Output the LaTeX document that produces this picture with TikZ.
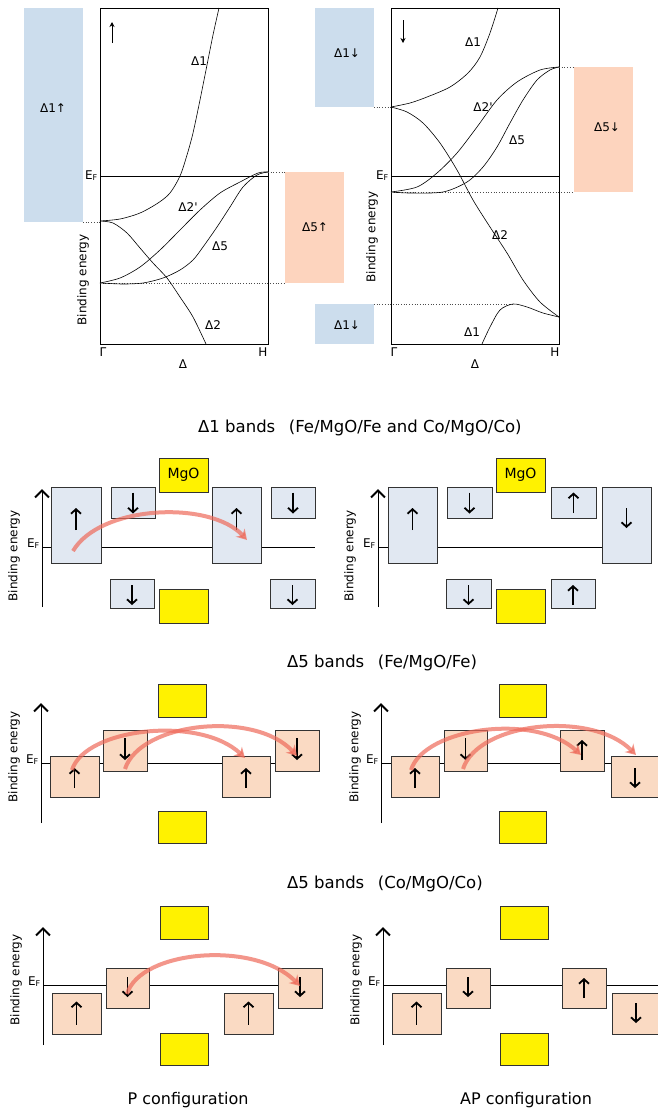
\documentclass[tikz,border=0pt]{standalone}
\usepackage{fontspec}
\setmainfont{DejaVu Sans}
\usetikzlibrary{arrows,arrows.meta}
\definecolor{bandblue}{HTML}{CCDDED}
\definecolor{bandorange}{HTML}{FDD4BE}
\definecolor{boxblue}{HTML}{E1E8F2}
\definecolor{boxorange}{HTML}{FADAC3}
\definecolor{arcred}{HTML}{EE6A5A}

\begin{document}
\begin{tikzpicture}[x=1pt,y=-1pt,font=\fontsize{12}{14}\selectfont,
        every node/.style={inner sep=0pt},
        band/.style={line width=0.6pt},
        level/.style={dotted,line width=0.7pt,black!70},
        ubox/.style={draw=black!80,line width=0.9pt,fill=boxblue,outer sep=0pt},
        obox/.style={draw=black!80,line width=0.9pt,fill=boxorange,outer sep=0pt},
        mgo/.style={draw=black!80,line width=0.9pt,fill=yellow,minimum width=49pt,minimum height=34pt,
            font=\fontsize{14}{16}\selectfont},
        spin/.style={line width=1.8pt,-{Straight Barb[length=4.5pt,width=10pt]}},
        axis/.style={line width=1pt,-{Straight Barb[length=7pt,width=14pt,line width=2pt]}},
        tunnel/.style={line width=4pt,draw=arcred,opacity=0.7,-{Stealth[length=10pt,width=12pt]}},
        title/.style={font=\fontsize{16.5}{20}\selectfont,anchor=west},
        ef/.style={anchor=base east},
        be/.style={rotate=90}]

    \useasboundingbox (0,0) rectangle (658,1112);

    % spin up band structure
    \fill[bandblue] (24,8) rectangle (83,222);
    \fill[bandorange] (285,172) rectangle (344,283);
    \draw[line width=0.8pt] (100,8) rectangle (268,344);
    \draw[band] (100,176) -- (268,176);
    \draw[level] (83,222) -- (100,222);
    \draw[level] (268,172) -- (285,172);
    \draw[level] (100,283) -- (285,283);
    \node (d1u) at (53,108) {Δ1↑};
    \node (d5u) at (315,227) {Δ5↑};
    \node[ef] (efu) at (98,179) {E\textsubscript{F}};
    \draw[line width=1pt,-{Stealth[length=5pt,width=5pt]}] (112,43) -- (112,22);
    \draw[band] plot[smooth] coordinates {(100,221) (120,219) (140,213) (158,203) (170,193)
        (180,176) (187,155) (193,133) (200,100) (207,65) (213,35) (219,8)};
    \draw[band] plot[smooth] coordinates {(100,221) (113,223) (127,233) (140,248) (153,263)
        (167,278) (180,297) (193,317) (206,344)};
    \draw[band] plot[smooth] coordinates {(100,283) (120,278) (140,267) (160,250) (180,230)
        (200,210) (220,193) (240,182) (258,173) (268,172)};
    \draw[band] plot[smooth] coordinates {(100,283) (123,284) (143,283) (163,278) (180,270)
        (193,260) (203,247) (217,227) (230,207) (243,187) (257,175) (268,172)};
    \node (u1) at (199,61) {Δ1};
    \node (u2p) at (188,207) {Δ2\textquotesingle};
    \node (u5) at (220,246) {Δ5};
    \node (u2) at (213,325) {Δ2};
    \node[be] (beu) at (83,280) {Binding energy};
    \node (gu) at (103,352) {Γ};
    \node (hu) at (263,352) {H};
    \node (du) at (183,364) {Δ};

    % spin down band structure
    \fill[bandblue] (315,8) rectangle (374,107);
    \fill[bandblue] (315,304) rectangle (374,344);
    \fill[bandorange] (574,67) rectangle (633,192);
    \draw[line width=0.8pt] (391,8) rectangle (559,344);
    \draw[band] (391,176) -- (559,176);
    \draw[level] (374,107) -- (391,107);
    \draw[level] (559,67) -- (574,67);
    \draw[level] (391,192) -- (574,192);
    \draw[level] (374,304) -- (513,304);
    \node (d1d) at (347,53) {Δ1↓};
    \node (d1dd) at (347,325) {Δ1↓};
    \node (d5d) at (607,127) {Δ5↓};
    \node[ef] (efd) at (389,179) {E\textsubscript{F}};
    \draw[line width=1pt,-{Stealth[length=5pt,width=5pt]}] (403,20) -- (403,43);
    \draw[band] plot[smooth] coordinates {(391,107) (410,103) (427,97) (450,87) (468,73)
        (480,57) (490,33) (498,8)};
    \draw[band] plot[smooth] coordinates {(391,107) (407,112) (423,123) (440,143) (457,170)
        (473,200) (490,227) (507,253) (523,280) (540,302) (559,317)};
    \draw[band] plot[smooth] coordinates {(482,344) (490,327) (500,310) (513,304) (527,307)
        (543,313) (559,317)};
    \draw[band] plot[smooth] coordinates {(391,192) (417,187) (437,173) (457,153) (477,127)
        (497,100) (517,82) (540,70) (559,67)};
    \draw[band] plot[smooth] coordinates {(391,192) (410,193) (443,192) (467,182) (483,167)
        (497,147) (510,123) (523,100) (537,80) (550,70) (559,67)};
    \node (w1) at (473,42) {Δ1};
    \node (w2p) at (483,107) {Δ2\textquotesingle};
    \node (w5) at (517,140) {Δ5};
    \node (w2) at (500,235) {Δ2};
    \node (w1b) at (472,332) {Δ1};
    \node[be] (bed) at (372,237) {Binding energy};
    \node (gd) at (394,352) {Γ};
    \node (hd) at (555,352) {H};
    \node (dd) at (475,364) {Δ};

    % Delta1 bands
    \node[title] (t1) at (198,428) {Δ1 bands\enspace\ (Fe/MgO/Fe and Co/MgO/Co)};

    \draw[axis] (42,607) -- (42,489);
    \draw (42,547) -- (315,547);
    \node[ef] (ef1) at (40,547) {E\textsubscript{F}};
    \node[be] (be1) at (14,556) {Binding energy};
    \node[ubox,minimum width=50pt,minimum height=76pt] (L1) at (76,525) {};
    \node[ubox,minimum width=44pt,minimum height=31pt] (L2) at (133,502.5) {};
    \node[mgo] (M1) at (183.5,475) {MgO};
    \node[ubox,minimum width=49pt,minimum height=76pt] (L3) at (236.5,525) {};
    \node[ubox,minimum width=44pt,minimum height=31pt] (L4) at (293,502.5) {};
    \node[ubox,minimum width=44pt,minimum height=29pt] (L5) at (132,593.5) {};
    \node[mgo] (M2) at (183.5,606) {};
    \node[ubox,minimum width=45pt,minimum height=29pt] (L6) at (292.5,593.5) {};
    \draw[spin] ([yshift=-5pt]L1.center) -- ([yshift=17pt]L1.center);
    \draw[spin] ([yshift=10pt]L2.center) -- ([yshift=-11pt]L2.center);
    \draw[spin] ([yshift=-5pt]L3.center) -- ([yshift=17pt]L3.center);
    \draw[spin] ([yshift=10pt]L4.center) -- ([yshift=-11pt]L4.center);
    \draw[spin] ([yshift=8.5pt]L5.center) -- ([yshift=-11.5pt]L5.center);
    \draw[spin] ([yshift=8.5pt]L6.center) -- ([yshift=-11.5pt]L6.center);
    \coordinate (p1) at (73,551);
    \coordinate (q1) at (247,540);
    \draw[tunnel] (p1) .. controls (100,505) and (210,500) .. (q1);

    \draw[axis] (378,607) -- (378,489);
    \draw (378,547) -- (651,547);
    \node[ef] (ef2) at (376,547) {E\textsubscript{F}};
    \node[be] (be2) at (350,556) {Binding energy};
    \node[ubox,minimum width=49pt,minimum height=76pt] (R1) at (412.5,525) {};
    \node[ubox,minimum width=45pt,minimum height=31pt] (R2) at (469.5,502.5) {};
    \node[mgo] (M3) at (520.5,475) {MgO};
    \node[ubox,minimum width=45pt,minimum height=31pt] (R3) at (573.5,502.5) {};
    \node[ubox,minimum width=49pt,minimum height=76pt] (R4) at (626.5,525) {};
    \node[ubox,minimum width=45pt,minimum height=29pt] (R5) at (468.5,593.5) {};
    \node[mgo] (M4) at (520.5,606) {};
    \node[ubox,minimum width=44pt,minimum height=29pt] (R6) at (573,593.5) {};
    \draw[spin] ([yshift=-5pt]R1.center) -- ([yshift=17pt]R1.center);
    \draw[spin] ([yshift=10pt]R2.center) -- ([yshift=-11pt]R2.center);
    \draw[spin] ([yshift=-10.5pt]R3.center) -- ([yshift=10pt]R3.center);
    \draw[spin] ([yshift=17pt]R4.center) -- ([yshift=-3pt]R4.center);
    \draw[spin] ([yshift=8.5pt]R5.center) -- ([yshift=-11.5pt]R5.center);
    \draw[spin] ([yshift=-11.5pt]R6.center) -- ([yshift=8.5pt]R6.center);

    % Delta5 bands, Fe
    \node[title] (t2) at (287,663) {Δ5 bands\enspace\ (Fe/MgO/Fe)};

    \draw[axis] (41,823) -- (41,703);
    \draw (41,763) -- (319,763);
    \node[ef] (ef3) at (39,763) {E\textsubscript{F}};
    \node[be] (be3) at (14,757) {Binding energy};
    \node[obox,minimum width=49pt,minimum height=41pt] (A1) at (74.5,776.5) {};
    \node[obox,minimum width=44pt,minimum height=41pt] (B1) at (125,750.5) {};
    \node[mgo,minimum width=48pt,minimum height=33pt] (M5) at (182,700.5) {};
    \node[mgo,minimum width=48pt,minimum height=32pt] (M6) at (182,827) {};
    \node[obox,minimum width=48pt,minimum height=41pt] (C1) at (246,776.5) {};
    \node[obox,minimum width=44pt,minimum height=41pt] (D1) at (297,750.5) {};
    \draw[spin] ([yshift=-11.5pt]A1.center) -- ([yshift=8.5pt]A1.center);
    \draw[spin] ([yshift=12.5pt]B1.center) -- ([yshift=-9.5pt]B1.center);
    \draw[spin] ([yshift=-11.5pt]C1.center) -- ([yshift=8.5pt]C1.center);
    \draw[spin] ([yshift=12.5pt]D1.center) -- ([yshift=-9.5pt]D1.center);
    \coordinate (p2) at (72,770);
    \coordinate (q2) at (245,758);
    \coordinate (p3) at (125,769);
    \coordinate (q3) at (297,756);
    \draw[tunnel] (p2) .. controls (85,728) and (200,715) .. (q2);
    \draw[tunnel] (p3) .. controls (140,722) and (255,710) .. (q3);

    \draw[axis] (381,823) -- (381,703);
    \draw (381,763) -- (658,763);
    \node[ef] (ef4) at (379,763) {E\textsubscript{F}};
    \node[be] (be4) at (355,757) {Binding energy};
    \node[obox,minimum width=48pt,minimum height=41pt] (A2) at (415,776.5) {};
    \node[obox,minimum width=43pt,minimum height=41pt] (B2) at (465.5,750.5) {};
    \node[mgo,minimum width=47pt,minimum height=33pt] (M7) at (522.5,700.5) {};
    \node[mgo,minimum width=47pt,minimum height=32pt] (M8) at (522.5,827) {};
    \node[obox,minimum width=44pt,minimum height=41pt] (C2) at (582,750.5) {};
    \node[obox,minimum width=48pt,minimum height=41pt] (D2) at (635,776.5) {};
    \draw[spin] ([yshift=-11.5pt]A2.center) -- ([yshift=8.5pt]A2.center);
    \draw[spin] ([yshift=12.5pt]B2.center) -- ([yshift=-9.5pt]B2.center);
    \draw[spin] ([yshift=-9.5pt]C2.center) -- ([yshift=10.5pt]C2.center);
    \draw[spin] ([yshift=8.5pt]D2.center) -- ([yshift=-11.5pt]D2.center);
    \coordinate (p4) at (411,770);
    \coordinate (q4) at (581,755);
    \coordinate (p5) at (463,769);
    \coordinate (q5) at (636,755);
    \draw[tunnel] (p4) .. controls (424,728) and (535,712) .. (q4);
    \draw[tunnel] (p5) .. controls (478,722) and (592,710) .. (q5);

    % Delta5 bands, Co
    \node[title] (t3) at (287,884) {Δ5 bands\enspace\ (Co/MgO/Co)};

    \draw[axis] (43,1045) -- (43,927);
    \draw (43,985) -- (322,985);
    \node[ef] (ef5) at (41,985) {E\textsubscript{F}};
    \node[be] (be5) at (16,980) {Binding energy};
    \node[obox,minimum width=49pt,minimum height=41pt] (A3) at (76.5,1013.5) {};
    \node[obox,minimum width=43pt,minimum height=40pt] (B3) at (127.5,988) {};
    \node[mgo,minimum width=48pt,minimum height=33pt] (M9) at (184,922.5) {};
    \node[mgo,minimum width=48pt,minimum height=32pt] (M10) at (184,1049) {};
    \node[obox,minimum width=49pt,minimum height=41pt] (C3) at (248.5,1013.5) {};
    \node[obox,minimum width=44pt,minimum height=40pt] (D3) at (300,988) {};
    \draw[spin] ([yshift=-11pt]A3.center) -- ([yshift=12pt]A3.center);
    \draw[spin] ([yshift=11pt]B3.center) -- ([yshift=-9pt]B3.center);
    \draw[spin] ([yshift=-11pt]C3.center) -- ([yshift=12pt]C3.center);
    \draw[spin] ([yshift=11pt]D3.center) -- ([yshift=-9pt]D3.center);
    \coordinate (p6) at (127,994);
    \coordinate (q6) at (300,986);
    \draw[tunnel] (p6) .. controls (140,950) and (255,940) .. (q6);

    \draw[axis] (383,1045) -- (383,927);
    \draw (383,985) -- (658,985);
    \node[ef] (ef6) at (381,985) {E\textsubscript{F}};
    \node[be] (be6) at (356,980) {Binding energy};
    \node[obox,minimum width=49pt,minimum height=41pt] (A4) at (416.5,1013.5) {};
    \node[obox,minimum width=44pt,minimum height=40pt] (B4) at (468,988) {};
    \node[mgo,minimum width=48pt,minimum height=33pt] (M11) at (524,922.5) {};
    \node[mgo,minimum width=48pt,minimum height=32pt] (M12) at (524,1049) {};
    \node[obox,minimum width=44pt,minimum height=40pt] (C4) at (584,988) {};
    \node[obox,minimum width=48pt,minimum height=41pt] (D4) at (636,1013.5) {};
    \draw[spin] ([yshift=-11pt]A4.center) -- ([yshift=12pt]A4.center);
    \draw[spin] ([yshift=11pt]B4.center) -- ([yshift=-9pt]B4.center);
    \draw[spin] ([yshift=-10pt]C4.center) -- ([yshift=10pt]C4.center);
    \draw[spin] ([yshift=10.5pt]D4.center) -- ([yshift=-9.5pt]D4.center);

    \node[font=\fontsize{16}{19}\selectfont] (pc) at (188,1100) {P configuration};
    \node[font=\fontsize{16}{19}\selectfont] (apc) at (526,1100) {AP configuration};

    \end{tikzpicture}
\end{document}
